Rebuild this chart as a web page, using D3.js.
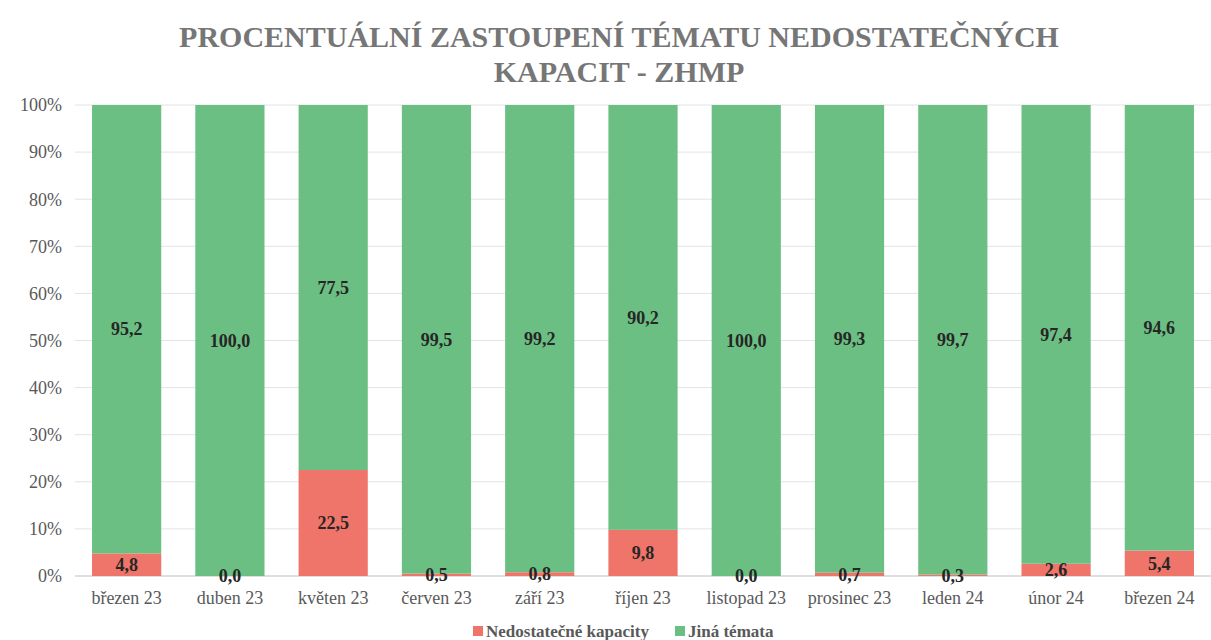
<!DOCTYPE html>
<html>
<head>
<meta charset="utf-8">
<script src="https://cdn.jsdelivr.net/npm/d3@7"></script>
<style>
  body { margin: 0; background: #fff; }
  svg { display: block; }
  svg text { font-family: "Liberation Serif", serif; }
</style>
</head>
<body>
<div id="chart"></div>
<script>
// Procentuální zastoupení tématu nedostatečných kapacit - ZHMP

const months = ["březen 23", "duben 23", "květen 23", "červen 23", "září 23", "říjen 23",
    "listopad 23", "prosinec 23", "leden 24", "únor 24", "březen 24"];
const nedostatecne = [4.8, 0.0, 22.5, 0.5, 0.8, 9.8, 0.0, 0.7, 0.3, 2.6, 5.4];
const jina = [95.2, 100.0, 77.5, 99.5, 99.2, 90.2, 100.0, 99.3, 99.7, 97.4, 94.6];
const yTicks = [0, 10, 20, 30, 40, 50, 60, 70, 80, 90, 100];
const seriesNames = ["Nedostatečné kapacity", "Jiná témata"];

function drawChart() {
    const width = 1211, height = 640;
    const margin = { top: 105, right: 0, bottom: 64, left: 75 };
    const colors = ["#ef7469", "#6bbf83"];

    const svg = d3.select("#chart").append("svg")
        .attr("width", width)
        .attr("height", height);

    const rows = months.map((m, i) => ({ month: m, ned: nedostatecne[i], jina: jina[i] }));
    const stack = d3.stack().keys(["ned", "jina"]);
    const series = stack(rows);

    const x = d3.scaleBand()
        .domain(months)
        .range([margin.left, width - margin.right])
        .paddingInner(0.33)
        .paddingOuter(0.165);

    const y = d3.scaleLinear()
        .domain([0, 100])
        .range([height - margin.bottom, margin.top]);

    // title
    const title = svg.append("text")
        .attr("text-anchor", "middle")
        .style("font-weight", "bold")
        .style("font-size", "30px")
        .attr("fill", "#767676");
    title.append("tspan").attr("x", 619).attr("y", 47).text("PROCENTUÁLNÍ ZASTOUPENÍ TÉMATU NEDOSTATEČNÝCH");
    title.append("tspan").attr("x", 619).attr("y", 82).text("KAPACIT - ZHMP");

    // grid
    svg.append("g")
        .selectAll("line")
        .data(yTicks)
        .enter()
        .append("line")
        .attr("x1", margin.left)
        .attr("x2", width - margin.right)
        .attr("y1", d => y(d))
        .attr("y2", d => y(d))
        .attr("stroke", d => d === 0 ? "#bfbfbf" : "#e3e3e3")
        .attr("stroke-width", 1);

    // y labels
    svg.append("g")
        .selectAll("text")
        .data(yTicks)
        .enter()
        .append("text")
        .attr("x", 62)
        .attr("y", d => y(d))
        .attr("dy", "0.35em")
        .attr("text-anchor", "end")
        .style("font-size", "18px")
        .attr("fill", "#595959")
        .text(d => d + "%");

    // bars
    const layers = svg.append("g")
        .selectAll("g")
        .data(series)
        .enter()
        .append("g")
        .attr("fill", (d, i) => colors[i]);

    layers.selectAll("rect")
        .data(d => d)
        .enter()
        .append("rect")
        .attr("x", d => x(d.data.month))
        .attr("width", x.bandwidth())
        .attr("y", d => y(d[1]))
        .attr("height", d => y(d[0]) - y(d[1]));

    // data labels
    const fmt = v => d3.format(".1f")(v).replace(".", ",");
    series.forEach(s => {
        svg.append("g")
            .selectAll("text")
            .data(s)
            .enter()
            .append("text")
            .attr("x", d => x(d.data.month) + x.bandwidth() / 2)
            .attr("y", d => y((d[0] + d[1]) / 2))
            .attr("dy", "0.35em")
            .attr("text-anchor", "middle")
            .style("font-weight", "bold")
            .style("font-size", "18px")
            .attr("fill", "#262626")
            .text(d => fmt(d[1] - d[0]));
    });

    // x labels
    svg.append("g")
        .selectAll("text")
        .data(months)
        .enter()
        .append("text")
        .attr("x", d => x(d) + x.bandwidth() / 2)
        .attr("y", 604)
        .attr("text-anchor", "middle")
        .style("font-size", "18px")
        .attr("fill", "#595959")
        .text(d => d);

    // legend
    const legend = svg.append("g");
    const items = [{ x: 473, name: seriesNames[0], c: colors[0] }, { x: 675, name: seriesNames[1], c: colors[1] }];
    items.forEach(it => {
        legend.append("rect")
            .attr("x", it.x)
            .attr("y", 626)
            .attr("width", 10)
            .attr("height", 10)
            .attr("fill", it.c);
        legend.append("text")
            .attr("x", it.x + 13)
            .attr("y", 637)
            .style("font-weight", "bold")
            .style("font-size", "17px")
            .attr("fill", "#595959")
            .text(it.name);
    });
}

drawChart();
</script>
</body>
</html>
